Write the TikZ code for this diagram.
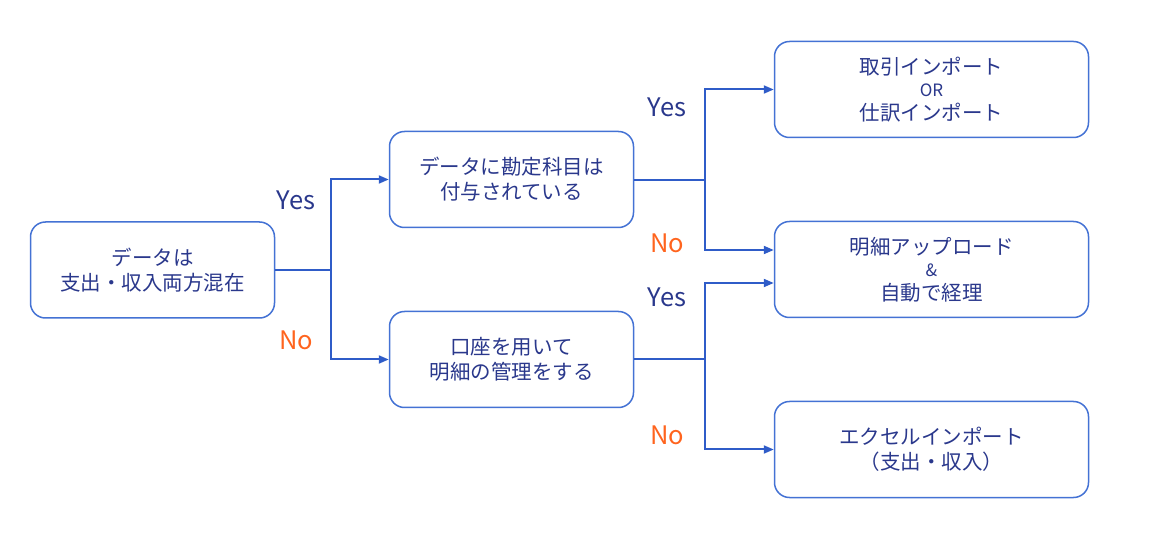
\documentclass[tikz,border=0pt]{standalone}
\usepackage{fontspec}
\setmainfont{Noto Sans CJK JP}
\usetikzlibrary{arrows.meta}
\definecolor{boxblue}{RGB}{68,114,212}
\definecolor{linkblue}{RGB}{47,92,200}
\definecolor{txtblue}{RGB}{42,56,140}
\definecolor{noorange}{RGB}{255,100,30}
\tikzset{
  stepbox/.style={draw=boxblue, line width=1.5pt, rounded corners=15pt, fill=white,
    minimum width=244pt, minimum height=96pt, align=center, text=txtblue,
    font=\fontsize{20.5}{25}\selectfont, inner sep=0pt},
  widebox/.style={stepbox, minimum width=314pt},
  link/.style={draw=linkblue, line width=2pt},
  arr/.style={link, -{Triangle[length=10pt,width=8pt]}},
  yeslbl/.style={text=txtblue, font=\fontsize{25.5}{30}\selectfont, inner sep=0pt},
  nolbl/.style={text=noorange, font=\fontsize{25.5}{30}\selectfont, inner sep=0pt}
}
\begin{document}
\begin{tikzpicture}[x=1pt,y=-1pt]
\useasboundingbox (0,0) rectangle (1163,537);
\node[stepbox] (A) at (152.5,270) {データは\\支出・収入両方混在};
\node[stepbox] (B) at (511.5,179.5) {データに勘定科目は\\付与されている};
\node[stepbox] (C) at (511.5,359.5) {口座を用いて\\明細の管理をする};
\node[widebox] (D) at (931.5,89.5) {取引インポート\\[-3pt]{\fontsize{17}{18}\selectfont OR}\\[-1pt]仕訳インポート};
\node[widebox] (E) at (931.5,269.5) {明細アップロード\\[-3pt]{\fontsize{17}{18}\selectfont \&}\\[-1pt]自動で経理};
\node[widebox] (F) at (931.5,449.5) {エクセルインポート\\（支出・収入）};
\coordinate (j1) at (331,270);
\coordinate (j2) at (705,180);
\coordinate (j3) at (705,359);
\draw[link] (A.east) -- (j1);
\draw[arr] (j1) |- (B.west);
\draw[arr] (j1) |- (C.west);
\draw[link] (B.east |- j2) -- (j2);
\draw[arr] (j2) |- (D.west);
\draw[arr] (j2) |- (E.west |- 0,250);
\draw[link] (C.east |- j3) -- (j3);
\draw[arr] (j3) |- (E.west |- 0,283);
\draw[arr] (j3) |- (F.west);
\node[yeslbl] (y1) at (296,200) {Yes};
\node[nolbl] (n1) at (296,340) {No};
\node[yeslbl] (y2) at (667,107) {Yes};
\node[nolbl] (n2) at (667,243) {No};
\node[yeslbl] (y3) at (667,297) {Yes};
\node[nolbl] (n3) at (667,435) {No};
\end{tikzpicture}
\end{document}
